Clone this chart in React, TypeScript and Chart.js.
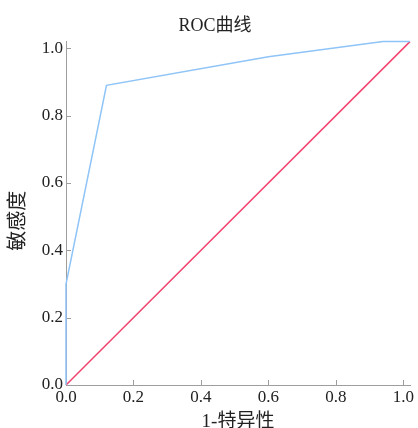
import { useEffect, useRef } from "react";
import { Chart, registerables } from "chart.js";

Chart.register(...registerables);

// ROC curve points (1-specificity, sensitivity)
const rocX = [0, 0, 0.12, 0.6, 0.94, 1.02];
const rocY = [0, 0.3, 0.89, 0.975, 1.02, 1.02];
// reference (chance) line
const refX = [0, 1.02];
const refY = [0, 1.02];
// tick labels
const tickValues = [0, 0.2, 0.4, 0.6, 0.8, 1.0];
const axisMax = 1.02;

const chartTitle = "ROC曲线";
const xTitle = "1-特异性";
const yTitle = "敏感度   ";

const FAMILY = "'Liberation Serif', 'Noto Sans CJK SC', serif";
const TEXT = "#222222";
const AXIS = "#9e9e9e";

const innerTicks = {
  id: "innerTicks",
  beforeDatasetsDraw(chart: any) {
    const { ctx, chartArea, scales } = chart;
    ctx.save();
    ctx.strokeStyle = AXIS;
    ctx.lineWidth = 1;
    ctx.beginPath();
    tickValues.forEach((v) => {
      const px = Math.round(scales.x.getPixelForValue(v)) + 0.5;
      ctx.moveTo(px, chartArea.bottom);
      ctx.lineTo(px, chartArea.bottom - 5);
      const py = Math.round(scales.y.getPixelForValue(v)) + 0.5;
      ctx.moveTo(chartArea.left, py);
      ctx.lineTo(chartArea.left + 5, py);
    });
    ctx.stroke();
    ctx.restore();
  },
};

export default function App() {
  const ref = useRef<HTMLCanvasElement>(null);

  useEffect(() => {
    if (!ref.current) return;
    const tickFont = { family: FAMILY, size: 17 };
    const chart = new Chart(ref.current, {
      type: "line",
      data: {
        datasets: [
          {
            data: rocX.map((x, i) => ({ x, y: rocY[i] })),
            borderColor: "#8ec4f7",
            borderWidth: 1.5,
            pointRadius: 0,
            tension: 0,
            fill: false,
            clip: false as any,
          },
          {
            data: refX.map((x, i) => ({ x, y: refY[i] })),
            borderColor: "#f2436f",
            borderWidth: 1.5,
            pointRadius: 0,
            tension: 0,
            fill: false,
            clip: false as any,
          },
        ],
      },
      options: {
        animation: false,
        responsive: false,
        layout: { padding: { left: 20, right: 8, top: 0, bottom: 0 } },
        plugins: {
          legend: { display: false },
          tooltip: { enabled: false },
          title: {
            display: true,
            text: chartTitle,
            color: TEXT,
            font: { family: FAMILY, size: 18, weight: "normal" },
            padding: { top: 15, bottom: 5 },
          },
        },
        scales: {
          x: {
            type: "linear",
            min: 0,
            max: axisMax,
            afterBuildTicks: (s: any) => {
              s.ticks = tickValues.map((v) => ({ value: v }));
            },
            afterFit: (s: any) => {
              s.height = 43;
            },
            ticks: {
              callback: (v: any) => Number(v).toFixed(1),
              color: TEXT,
              font: tickFont,
              padding: 2,
              maxRotation: 0,
              autoSkip: false,
            },
            grid: { display: true, drawOnChartArea: false, drawTicks: false },
            border: { display: true, color: AXIS, width: 1 },
            title: {
              display: true,
              text: xTitle,
              color: TEXT,
              font: { family: FAMILY, size: 19, lineHeight: 0.66 },
              padding: { top: 0, bottom: 0 },
            },
          },
          y: {
            type: "linear",
            min: 0,
            max: axisMax,
            afterBuildTicks: (s: any) => {
              s.ticks = tickValues.map((v) => ({ value: v }));
            },
            afterFit: (s: any) => {
              s.width = 46;
            },
            ticks: {
              callback: (v: any) => Number(v).toFixed(1),
              color: TEXT,
              font: tickFont,
              padding: 3,
              autoSkip: false,
            },
            grid: { display: true, drawOnChartArea: false, drawTicks: false },
            border: { display: true, color: AXIS, width: 1 },
            title: {
              display: true,
              text: yTitle,
              color: TEXT,
              font: { family: FAMILY, size: 20, lineHeight: 1.2 },
              padding: { top: -13.7, bottom: 0 },
            },
          },
        },
      },
      plugins: [innerTicks],
    } as any);
    return () => chart.destroy();
  }, []);

  return (
    <div style={{ position: "absolute", left: 0, top: 0, width: 418, height: 428 }}>
      <canvas ref={ref} width={418} height={428} style={{ display: "block" }} />
    </div>
  );
}
